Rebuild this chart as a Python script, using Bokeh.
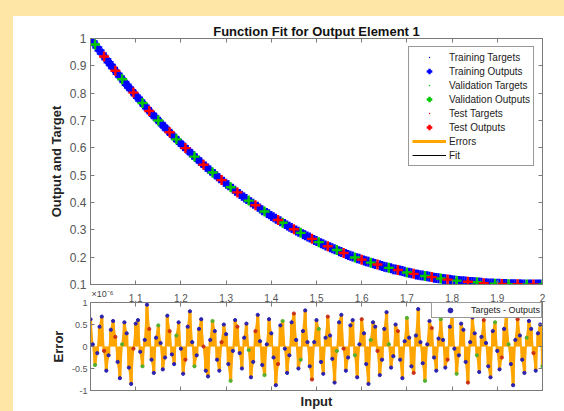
import numpy as np
from bokeh.plotting import figure
from bokeh.models import (ColumnDataSource, Legend, LegendItem, LinearAxis, FixedTicker,
                          CustomJSTickFormatter, Range1d, Title)
from bokeh.layouts import column
from bokeh.embed import file_html
from bokeh.resources import INLINE

# ---------------- data ----------------
targets = [
    1.000, 0.989, 0.978, 0.967, 0.956, 0.945, 0.934, 0.924, 0.913, 0.903,
    0.892, 0.882, 0.871, 0.861, 0.851, 0.841, 0.831, 0.821, 0.811, 0.802,
    0.792, 0.783, 0.773, 0.764, 0.754, 0.745, 0.735, 0.726, 0.717, 0.709,
    0.700, 0.691, 0.682, 0.674, 0.665, 0.657, 0.648, 0.640, 0.631, 0.623,
    0.615, 0.607, 0.599, 0.592, 0.584, 0.576, 0.568, 0.561, 0.553, 0.546,
    0.538, 0.531, 0.524, 0.517, 0.510, 0.503, 0.496, 0.489, 0.482, 0.476,
    0.469, 0.463, 0.456, 0.450, 0.443, 0.437, 0.431, 0.425, 0.418, 0.413,
    0.407, 0.401, 0.395, 0.390, 0.384, 0.378, 0.372, 0.367, 0.362, 0.357,
    0.351, 0.346, 0.341, 0.336, 0.331, 0.326, 0.321, 0.316, 0.311, 0.307,
    0.302, 0.298, 0.293, 0.289, 0.284, 0.280, 0.276, 0.272, 0.267, 0.263,
    0.259, 0.255, 0.251, 0.247, 0.243, 0.240, 0.236, 0.233, 0.229, 0.226,
    0.222, 0.219, 0.215, 0.212, 0.208, 0.205, 0.202, 0.199, 0.196, 0.194,
    0.191, 0.188, 0.185, 0.183, 0.180, 0.178, 0.175, 0.173, 0.170, 0.168,
    0.165, 0.163, 0.161, 0.159, 0.156, 0.155, 0.153, 0.151, 0.149, 0.147,
    0.144, 0.143, 0.141, 0.139, 0.137, 0.136, 0.134, 0.133, 0.131, 0.130,
    0.128, 0.127, 0.125, 0.124, 0.123, 0.122, 0.120, 0.119, 0.118, 0.117,
    0.116, 0.115, 0.114, 0.113, 0.112, 0.112, 0.111, 0.110, 0.109, 0.109,
    0.108, 0.108, 0.107, 0.106, 0.105, 0.105, 0.104, 0.104, 0.104, 0.103,
    0.103, 0.103, 0.102, 0.102, 0.102, 0.101, 0.101, 0.101, 0.101, 0.101,
    0.101, 0.100, 0.100, 0.100, 0.100, 0.100, 0.100, 0.100, 0.100, 0.100,
    0.100,
]

# Targets - Outputs, in units of 1e-6
errors_e6 = [
    0.62, 0.05, -0.42, -0.15, 0.45, 0.68, -0.10, -0.55, -0.20, 0.38,
    0.58, 0.22, -0.35, -0.72, 0.05, 0.55, 0.30, -0.48, -0.85, -0.05,
    0.52, 0.60, -0.12, -0.45, 0.15, 0.95, 0.40, -0.30, -0.60, 0.20,
    0.48, 0.08, -0.52, -0.25, 0.70, 0.35, -0.18, -0.40, 0.25, 0.55,
    -0.05, -0.62, -0.30, 0.45, 0.80, 0.10, -0.45, -0.20, 0.40, 0.62,
    0.00, -0.55, -0.68, 0.15, 0.58, 0.35, -0.30, -0.55, 0.10, 0.50,
    0.28, -0.40, -0.78, -0.10, 0.60, 0.45, -0.15, -0.50, 0.20, 0.52,
    -0.08, -0.70, -0.35, 0.35, 0.72, 0.12, -0.42, -0.65, 0.05, 0.62,
    0.30, -0.25, -0.88, -0.40, 0.48, 0.58, -0.05, -0.60, -0.20, 0.55,
    0.75, 0.15, -0.50, -0.30, 0.35, 0.82, 0.10, -0.45, -0.75, 0.10,
    0.60, 0.40, -0.35, -0.62, 0.20, 0.68, 0.25, -0.28, -0.82, -0.10,
    0.55, 0.72, -0.05, -0.55, -0.25, 0.48, 0.60, -0.20, -0.70, 0.05,
    0.62, 0.30, -0.40, -0.85, 0.15, 0.55, 0.45, -0.10, -0.65, -0.30,
    0.40, 0.78, 0.05, -0.48, -0.22, 0.50, 0.35, -0.30, -0.72, 0.12,
    0.65, 0.20, -0.45, -0.60, 0.25, 0.85, 0.10, -0.38, -0.78, 0.05,
    0.58, 0.42, -0.25, -0.55, 0.18, 0.62, 0.15, -0.48, -0.30, 0.45,
    0.70, -0.05, -0.62, -0.20, 0.52, 0.38, -0.35, -0.82, 0.10, 0.66,
    0.30, -0.20, -0.58, 0.22, 0.60, 0.08, -0.45, -0.70, 0.35, 0.55,
    -0.10, -0.52, -0.25, 0.40, 0.72, 0.05, -0.40, -0.88, 0.15, 0.62,
    0.25, -0.30, -0.60, 0.20, 0.58, 0.40, -0.15, -0.55, 0.30, 0.50,
    -0.45,
]

# T = training, V = validation, S = test
subsets = (
    "TTVTTTSTTT" "TSTTVTTTTS" "TTTVTTSTTT" "VTTTTSTTVT" "TTSTTTVTTT"
    "STTTVTTTST" "TTVTTSTTTT" "VTTSTTTVTT" "TTTSTVTTTT" "STTVTTTTST"
    "TVTTTSTTTV" "TTSTTTTVTT" "STTTVTTSTT" "TTVTTTSTTT" "VTTSTTTTVT"
    "TSTTTVTTST" "TTVTTTTSTT" "TVTTSTTTTV" "TTSTTVTTTS" "TTTVTTSTTT"
    "V"
)

x_ticks = [1.0, 1.1, 1.2, 1.3, 1.4, 1.5, 1.6, 1.7, 1.8, 1.9, 2.0]
x_tick_labels_shown = [1.1, 1.2, 1.3, 1.4, 1.5, 1.6, 1.7, 1.8, 1.9, 2.0]
fit_y_ticks = [0.1, 0.2, 0.3, 0.4, 0.5, 0.6, 0.7, 0.8, 0.9, 1.0]
err_y_ticks = [-1.0, -0.5, 0.0, 0.5, 1.0]
subset_names = {"T": "Training", "V": "Validation", "S": "Test"}

# ---------------- styling ----------------
FONT = "Liberation Sans"
YELLOW = "#fde6a6"
ORANGE = "#ffa500"
AX = "#7a7a7a"
TXT = "#555555"
COL = {"T": "#0000ff", "V": "#00c800", "S": "#ff0000"}
DOT = {"T": "#2a22b0", "V": "#55b030", "S": "#c8301e"}

n = min(len(targets), len(errors_e6), len(subsets))
inputs = list(np.linspace(1.0, 2.0, len(targets))[:n])
tg = targets[:n]
er = errors_e6[:n]
outputs = [t - e * 1e-6 for t, e in zip(tg, er)]

src = {}
for k in "TVS":
    idx = [i for i in range(n) if subsets[i] == k]
    src[k] = ColumnDataSource(dict(
        x=[inputs[i] for i in idx], t=[tg[i] for i in idx],
        o=[outputs[i] for i in idx], e=[er[i] for i in idx]))
all_src = ColumnDataSource(dict(x=inputs, t=tg, o=outputs, e=er))

fmt = CustomJSTickFormatter(code="return (Math.round(tick*10)/10).toString();")


def style_axis(ax, ticks, fs="12px", labels=True):
    ax.ticker = FixedTicker(ticks=ticks)
    ax.axis_line_color = AX
    ax.major_tick_line_color = AX
    ax.major_tick_in = 4
    ax.major_tick_out = 0
    ax.minor_tick_line_color = None
    ax.major_label_text_font = FONT
    ax.major_label_text_color = TXT
    ax.axis_label_text_font = FONT
    ax.axis_label_text_font_style = "bold"
    ax.axis_label_text_font_size = "13px"
    ax.axis_label_text_color = "#222222"
    if labels:
        ax.major_label_text_font_size = fs
    else:
        ax.major_label_text_font_size = "1px"
        ax.major_label_text_color = None
        ax.major_label_standoff = 0


# ---------------- top: function fit ----------------
p1 = figure(width=551, height=288, x_range=Range1d(1, 2), y_range=Range1d(0.1, 1),
            title="Function Fit for Output Element 1",
            output_backend="svg", toolbar_location=None,
            min_border_left=77, min_border_right=22, min_border_top=22, min_border_bottom=20,
            background_fill_color="white", border_fill_color="white",
            outline_line_color=AX)
p1.grid.visible = False
p1.title.align = "center"
p1.title.text_font = FONT
p1.title.text_font_size = "13px"
p1.title.text_font_style = "bold"
p1.title.text_color = "#111111"
p1.title.standoff = 0

style_axis(p1.xaxis[0], x_ticks, labels=False)
style_axis(p1.yaxis[0], fit_y_ticks, fs="12px")
p1.yaxis[0].formatter = fmt
p1.yaxis[0].major_label_standoff = 4
p1.yaxis[0].axis_label = "Output and Target"
p1.yaxis[0].axis_label_standoff = 3
ax_r = LinearAxis()
style_axis(ax_r, fit_y_ticks, labels=False)
p1.add_layout(ax_r, "right")
ax_t = LinearAxis()
style_axis(ax_t, x_ticks, labels=False)
p1.add_layout(ax_t, "above")

r_fit = p1.line(inputs, outputs, line_color="black", line_width=1)
r_t, r_o = {}, {}
for k in "TVS":
    r_t[k] = p1.scatter("x", "t", source=src[k], marker="dot", size=14,
                        fill_color=COL[k], line_color=COL[k])
    r_o[k] = p1.scatter("x", "o", source=src[k], marker="cross", size=10,
                        line_width=2.4, line_color=COL[k])
r_err = p1.segment(x0="x", y0="t", x1="x", y1="o", source=all_src,
                   line_color=ORANGE, line_width=3)

items = []
for k in "TVS":
    items.append(LegendItem(label=subset_names[k] + " Targets", renderers=[r_t[k]]))
    items.append(LegendItem(label=subset_names[k] + " Outputs", renderers=[r_o[k]]))
items.append(LegendItem(label="Errors", renderers=[r_err]))
items.append(LegendItem(label="Fit", renderers=[r_fit]))
leg1 = Legend(items=items, location="top_right", margin=8, padding=3, spacing=0,
              glyph_width=34, glyph_height=14, label_height=14, label_standoff=3,
              label_text_font=FONT, label_text_font_size="10px", label_text_color="#222222",
              border_line_color="#333333", border_line_width=1,
              background_fill_color="white", background_fill_alpha=1)
p1.add_layout(leg1)

# exponent of the error axis, shown between the two axes (as in the original)
p1.add_layout(Title(text="\u00d710\u207b\u2076", align="left", offset=1, standoff=5,
                    text_font=FONT, text_font_size="9px", text_font_style="normal",
                    text_color="#444444"), "below")

# ---------------- bottom: errors ----------------
p2 = figure(width=551, height=123, x_range=p1.x_range, y_range=Range1d(-1, 1),
            output_backend="svg", toolbar_location=None,
            min_border_left=77, min_border_right=22, min_border_top=14, min_border_bottom=21,
            background_fill_color="white", border_fill_color="white", border_fill_alpha=0,
            outline_line_color=AX, margin=(-16, 0, 0, 0))
p2.grid.visible = False
style_axis(p2.xaxis[0], x_ticks, labels=False)
p2.xaxis[0].axis_label = "Input"
p2.xaxis[0].axis_label_standoff = 3
style_axis(p2.yaxis[0], err_y_ticks, fs="9px")
p2.yaxis[0].formatter = fmt
p2.yaxis[0].major_label_standoff = 3
p2.yaxis[0].axis_label = "Error"
p2.yaxis[0].axis_label_standoff = 3
ax_r2 = LinearAxis()
style_axis(ax_r2, err_y_ticks, labels=False)
p2.add_layout(ax_r2, "right")
ax_t2 = LinearAxis()
style_axis(ax_t2, x_tick_labels_shown, fs="10px")
ax_t2.formatter = fmt
ax_t2.major_label_standoff = 1
p2.add_layout(ax_t2, "above")

p2.line("x", "e", source=all_src, line_color=ORANGE, line_width=1.6)
p2.segment(x0="x", y0=0, x1="x", y1="e", source=all_src, line_color=ORANGE, line_width=3.4)
r_d = {}
for k in "TVS":
    r_d[k] = p2.scatter("x", "e", source=src[k], marker="circle", size=3.2,
                        fill_color=DOT[k], line_color=DOT[k])

leg2 = Legend(items=[LegendItem(label="Targets - Outputs", renderers=[r_d["T"]])],
              location="top_right", margin=0, padding=1, spacing=0,
              glyph_width=34, glyph_height=12, label_height=12, label_standoff=4,
              label_text_font=FONT, label_text_font_size="9px", label_text_color="#222222",
              border_line_color="#333333", border_line_width=1,
              background_fill_color="white", background_fill_alpha=1)
p2.add_layout(leg2)

layout = column(p1, p2, spacing=0, styles={"background-color": "white"})

html = file_html(layout, INLINE, title="Function Fit")
css = ("<style>html,body{background:%s;} body{margin:0;padding:16px 0 0 13px;"
       "overflow:hidden;}</style>" % YELLOW)
html = html.replace("</head>", css + "</head>", 1)
open("out.html", "w").write(html)
